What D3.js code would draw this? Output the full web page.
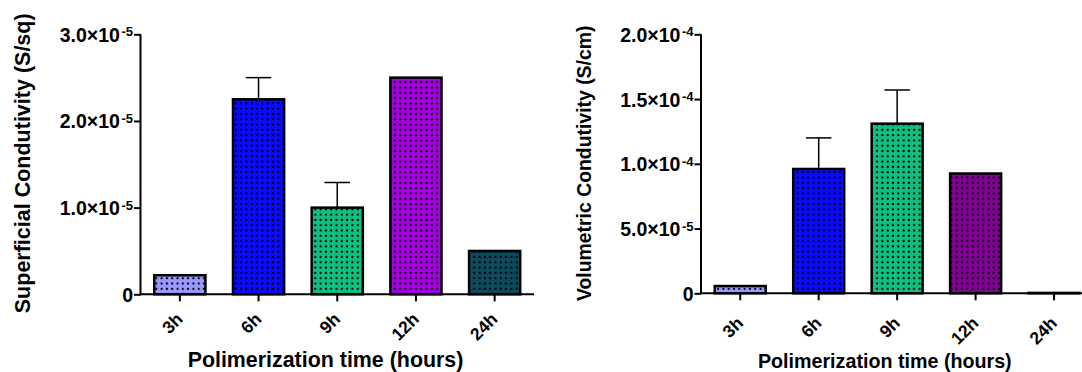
<!DOCTYPE html>
<html>
<head>
<meta charset="utf-8">
<script src="https://cdn.jsdelivr.net/npm/d3@7"></script>
<style>
  body { margin: 0; background: #fff; }
  svg { display: block; font-family: "Liberation Sans", Arial, sans-serif; font-weight: bold; }
</style>
</head>
<body>
<svg id="chart" width="1082" height="372"></svg>
<script>
// categories
const times = ['3h', '6h', '9h', '12h', '24h'];

// superficial conductivity (S/sq), mean and upper error
const superficial = [2.2e-6, 2.25e-5, 1.0e-5, 2.5e-5, 5.0e-6];
const superficialErr = [0.05e-6, 0.25e-5, 0.29e-5, 0, 0];
const superficialColors = ['#9999ff', '#0a0aff', '#0fc080', '#a400e0', '#0b4a5f'];
const superficialTicks = [0, 1e-5, 2e-5, 3e-5];

// volumetric conductivity (S/cm)
const volumetric = [5.6e-6, 9.6e-5, 1.31e-4, 9.25e-5, 3e-7];
const volumetricErr = [0, 2.4e-5, 2.6e-5, 0, 0];
const volumetricColors = ['#9999ff', '#0a0aff', '#0fc080', '#820096', '#0b4a5f'];
const volumetricTicks = [0, 5e-5, 1e-4, 1.5e-4, 2e-4];

const svg = d3.select('#chart');
const FONT = '"Liberation Sans", Arial, sans-serif';

// dotted fill patterns, one per colour
let defs = svg.append('defs');
let patternIds = {};
function pattern (color) {
    if (patternIds[color]) return patternIds[color];
    let id = 'pat' + Object.keys(patternIds).length;
    let p = defs.append('pattern')
        .attr('id', id)
        .attr('patternUnits', 'userSpaceOnUse')
        .attr('width', 5.3)
        .attr('height', 5.3);
    p.append('rect').attr('width', 5.3).attr('height', 5.3).attr('fill', color);
    p.append('rect').attr('x', 1.6).attr('y', 1.6).attr('width', 2).attr('height', 2).attr('fill', '#000');
    patternIds[color] = 'url(#' + id + ')';
    return patternIds[color];
}

function tickLabel (sel, d) {
    if (d === 0) { sel.text('0'); return; }
    let exp = Math.floor(Math.log10(d) + 1e-9),
        mant = d / Math.pow(10, exp);
    sel.append('tspan').text(mant.toFixed(1) + '\u00d710');
    sel.append('tspan').attr('dx', 1.5).attr('dy', '-0.42em').attr('font-size', '0.67em').text('-' + Math.abs(exp));
}

function panel (opt) {

    let g = svg.append('g');

    let x = d3.scaleBand()
        .domain(times)
        .range([opt.x0, opt.x1])
        .paddingInner(0.35)
        .paddingOuter(0.175);

    let y = d3.scaleLinear()
        .domain([0, opt.ymax])
        .range([opt.yBottom, 34.3]);

    // bars
    g.selectAll('rect.bar')
        .data(opt.values)
        .join('rect')
        .attr('class', 'bar')
        .attr('x', (d, i) => x(times[i]))
        .attr('y', d => y(d))
        .attr('width', x.bandwidth())
        .attr('height', d => y(0) - y(d))
        .attr('fill', (d, i) => pattern(opt.colors[i]))
        .attr('stroke', '#000')
        .attr('stroke-width', 2.5);

    // error bars (upper only)
    opt.values.forEach((v, i) => {
        let e = opt.errors[i];
        if (!e) return;
        let cx = x(times[i]) + x.bandwidth() / 2,
            hw = x.bandwidth() / 4;
        g.append('line')
            .attr('x1', cx).attr('x2', cx)
            .attr('y1', y(v)).attr('y2', y(v + e))
            .attr('stroke', '#000').attr('stroke-width', 1.5);
        g.append('line')
            .attr('x1', cx - hw).attr('x2', cx + hw)
            .attr('y1', y(v + e)).attr('y2', y(v + e))
            .attr('stroke', '#000').attr('stroke-width', 1.5);
    });

    // y axis
    let ya = g.append('g')
        .attr('transform', 'translate(' + opt.x0 + ',0)')
        .call(d3.axisLeft(y).tickValues(opt.ticks).tickSize(6.5).tickFormat(''));
    ya.select('.domain').attr('stroke-width', 2).attr('d', 'M0,' + (opt.yBottom + 1) + 'V34.3');
    ya.selectAll('.tick line').attr('stroke-width', 2);
    ya.selectAll('.tick').append('text')
        .attr('x', -7.5)
        .attr('dy', '0.36em')
        .attr('text-anchor', 'end')
        .attr('fill', '#000')
        .attr('font-family', FONT)
        .attr('font-size', 19.5)
        .each(function (d) { tickLabel(d3.select(this), d); });

    // x axis
    let xa = g.append('g')
        .attr('transform', 'translate(0,' + opt.yBottom + ')')
        .call(d3.axisBottom(x).tickSize(7).tickSizeOuter(0));
    xa.select('.domain').attr('stroke-width', 2).attr('d', 'M' + opt.x0 + ',0H' + opt.lineEnd);
    xa.selectAll('.tick line').attr('stroke-width', 2);
    xa.selectAll('.tick text')
        .attr('font-size', 17.5)
        .attr('font-family', FONT)
        .attr('fill', '#000')
        .attr('text-anchor', 'end')
        .attr('x', 0)
        .attr('y', 0)
        .attr('dy', null)
        .attr('transform', 'translate(4,' + opt.xlabDy + ') rotate(-45)');

    // titles
    g.append('text')
        .attr('transform', 'translate(' + opt.ytX + ',' + opt.ytY + ') rotate(-90)')
        .attr('text-anchor', 'middle')
        .attr('font-size', opt.ytSize)
        .text(opt.yTitle);

    g.append('text')
        .attr('x', opt.xtX)
        .attr('y', opt.xtY)
        .attr('text-anchor', 'middle')
        .attr('font-size', opt.xtSize)
        .text('Polimerization time (hours)');
}

panel({
    x0: 140.5, x1: 534, lineEnd: 534, yBottom: 294.3, ymax: 3e-5, xlabDy: 26,
    values: superficial, errors: superficialErr, colors: superficialColors, ticks: superficialTicks,
    yTitle: 'Superficial Condutivity (S/sq)', ytX: 30, ytY: 163.3, ytSize: 21.5,
    xtX: 325.5, xtY: 367, xtSize: 21.4
});

panel({
    x0: 701, x1: 1093.3, lineEnd: 1082, yBottom: 293.3, ymax: 2e-4, xlabDy: 31,
    values: volumetric, errors: volumetricErr, colors: volumetricColors, ticks: volumetricTicks,
    yTitle: 'Volumetric Condutivity (S/cm)', ytX: 591, ytY: 163.3, ytSize: 19.4,
    xtX: 884.8, xtY: 367.5, xtSize: 19.7
});
</script>
</body>
</html>
